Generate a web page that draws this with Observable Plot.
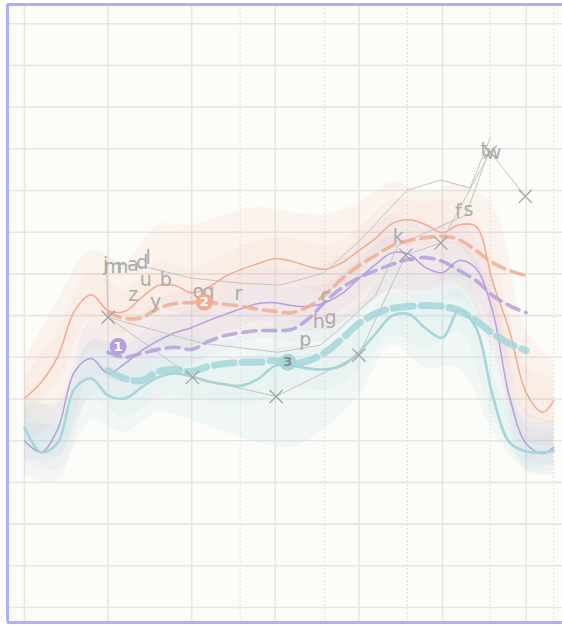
<!DOCTYPE html>
<html><head><meta charset="utf-8">
<script src="https://cdn.jsdelivr.net/npm/d3@7"></script>
<script src="https://cdn.jsdelivr.net/npm/@observablehq/plot@0.6"></script>
<style>body{margin:0;background:#fff;} #chart svg{display:block;}</style>
</head><body><div id="chart"></div>
<script>
// ---- data ----
const xs = [0,2,4,6,8,10,12,14,16,18,20,22,24,26,28,30,32,34,36,38,40,42,44,46,48,50,52,54,56,58,60,62,63.3];
const orangeLine = [50.1,54.0,60.2,71.2,75.0,71.2,71.0,74.3,77.2,77.2,75.5,76.7,79.4,81.1,82.5,83.7,83.0,81.8,81.1,82.7,85.6,88.5,92.1,93.0,91.8,89.9,91.8,91.4,78.0,66.4,51.6,46.8,49.6];
const purpleLine = [40.0,37.2,42.9,56.6,59.7,56.1,58.5,61.6,64.0,65.9,67.1,68.8,70.3,71.7,72.9,73.1,72.4,72.2,73.1,75.3,78.9,82.3,85.1,84.7,81.5,80.3,83.2,81.3,71.0,50.6,39.3,36.9,38.4];
const tealLine = [43.2,37.2,39.6,52.5,54.9,50.8,50.1,52.8,55.2,56.1,55.4,54.2,53.5,53.2,54.9,58.0,58.0,57.3,57.1,58.0,61.2,65.7,70.0,70.3,66.9,64.7,71.2,67.1,50.8,39.6,37.4,37.2,37.6];

const bandX = [0,4,8,12,16,20,24,28,32,36,40,44,48,52,56,60,63.3];
const orangeOuterHi = [58.8,73.7,85.7,82.8,91.7,91.7,94.1,96.0,94.8,94.1,97.0,102.0,99.6,101.3,96.5,66.5,59.3];
const orangeOuterLo = [40.1,44.9,61.7,59.3,62.9,61.7,65.3,66.5,66.5,66.5,71.3,76.1,76.1,77.3,61.7,40.1,38.9];
const orangeInnerHi = [55.0,66.5,80.4,76.1,82.8,81.4,84.7,88.1,88.6,86.6,91.0,97.7,97.2,97.2,84.5,58.1,55.0];
const orangeInnerLo = [44.9,54.0,69.4,65.8,71.8,70.1,74.2,77.0,77.5,75.6,80.4,86.9,86.6,86.6,71.3,46.1,44.4];
const purpleOuterHi = [48.5,49.7,68.9,67.7,73.7,76.1,79.0,81.4,81.4,82.1,88.1,94.1,91.0,92.4,79.7,47.3,44.9];
const purpleOuterLo = [31.7,30.5,50.9,49.7,55.7,58.1,61.7,64.6,63.6,64.1,69.8,76.1,72.5,74.2,61.7,32.9,31.7];
const purpleInnerHi = [44.4,44.4,64.1,62.9,68.9,71.3,74.4,77.0,76.8,77.5,83.3,89.3,85.7,87.6,75.4,43.7,42.5];
const purpleInnerLo = [35.8,35.8,55.4,54.2,60.2,62.6,66.0,68.6,68.2,68.9,74.6,80.9,77.3,79.0,66.5,35.8,34.3];
const tealOuterHi = [50.9,48.5,64.1,60.5,65.3,65.3,64.1,66.5,68.9,68.4,72.5,81.4,77.3,82.1,61.7,44.9,44.9];
const tealOuterLo = [34.8,32.9,44.9,42.0,46.8,44.9,42.0,39.6,38.4,43.0,50.9,62.9,57.4,57.4,42.5,32.9,32.9];
const tealInnerHi = [47.3,43.7,59.3,55.0,60.0,60.0,58.8,60.5,62.9,62.4,66.5,75.6,71.8,76.1,55.7,41.3,41.3];
const tealInnerLo = [38.9,36.5,50.2,45.4,50.4,50.4,48.5,49.2,52.6,52.1,56.4,65.3,61.7,66.0,46.1,34.1,34.1];

const trendX = [10,12,14,16,18,20,22,24,26,28,30,32,34,36,38,40,42,44,46,48,50,52,54,56,58,60];
const orangeTrend = [70.7,69.3,69.5,71.7,72.9,73.1,73.1,72.7,72.2,71.5,71.0,70.7,72.2,75.1,78.9,82.0,84.4,86.8,88.0,88.7,89.0,88.2,85.6,82.7,80.8,79.6];
const purpleTrend = [61.2,60.0,60.9,61.9,62.4,61.9,63.8,65.2,65.9,66.4,66.4,66.7,69.3,73.4,76.7,79.1,80.8,82.3,83.5,83.9,83.0,80.8,78.4,74.8,72.4,70.7];
const tealTrend = [56.8,54.9,54.4,56.6,57.1,56.6,57.8,58.5,58.8,58.8,59.2,58.5,59.2,61.2,64.5,68.1,70.5,71.7,72.2,72.4,72.2,71.2,68.8,65.7,63.3,61.6];

const seriesLabels = ["1","2","3"];
const labelX = [11.2, 21.5, 31.5];
const labelY = [62.6, 73.2, 58.8];

const markerX = [10.0,20.1,30.1,40.0,45.6,49.8,55.7,59.9];
const markerY = [69.6,55.2,50.6,60.5,84.5,87.4,109.2,98.6];

const grayPaths = [
  {id:"g2", x:[10.0,9.8,14.7,19.9,25.8,30.6,35.8,39.8,45.8,49.8,53.3,55.7], y:[69.6,82.6,81.6,79.0,77.8,77.3,80.2,87.4,100.1,102.5,100.6,112.6]},
  {id:"g3", x:[10.0,21.1,30.3,35.4,37.8,42.0,44.7], y:[69.6,63.4,61.2,62.9,67.0,74.9,86.9]},
  {id:"g4", x:[44.7,52.8,55.7], y:[86.9,94.1,110.2]}
];

const letters = ["j","m","n","a","d","l","u","b","z","y","o","q","r","c","h","g","p","k","f","s","t","w"];
const letterX = [9.7,10.6,11.7,13.0,14.1,14.8,14.5,16.9,13.0,15.7,20.8,22.0,25.6,36.0,35.2,36.6,33.6,44.7,51.9,53.1,55.0,56.1];
const letterY = [82.1,81.6,81.6,82.1,82.6,83.8,78.5,78.5,74.9,73.2,75.6,75.6,75.1,74.6,68.4,69.4,64.1,88.8,94.8,95.3,109.7,109.0];

const xGrid = [0,10,20,30,40,50,60];
const xGridMinor = [25.8,35.9,45.8,55.7,63.3];
const yGrid = [0,10,20,30,40,50,60,70,80,90,100,110,120,130,140];

const xDomain = [-2.03, 64.35];
const yDomain = [-3.6, 144.6];

// ---- tables ----
const pts = (X, Y) => X.map((x, i) => ({x, y: Y[i]}));
const band = (X, lo, hi) => X.map((x, i) => ({x, lo: lo[i], hi: hi[i]}));

const C = {orange:"#f2ab90", purple:"#b4a0da", teal:"#a4d6da"};

const grayRows = grayPaths.flatMap(g => g.x.map((x, i) => ({id: g.id, x, y: g.y[i]})));
const markerRows = pts(markerX, markerY);
const letterRows = letters.map((t, i) => ({t, x: letterX[i], y: letterY[i]}));
const labelRows = seriesLabels.map((t, i) => ({t, x: labelX[i], y: labelY[i]}));
const labelFill = [C.purple, C.orange, C.teal];
const labelText = ["#ffffff", "#ffffff", "#888888"];

const plot = Plot.plot({
  width: 562, height: 625,
  marginLeft: 7, marginRight: 0, marginTop: 4, marginBottom: 3,
  x: {domain: xDomain, axis: null},
  y: {domain: yDomain, axis: null},
  marks: [
    Plot.frame({fill: "#fcfcf8", stroke: "none"}),
    Plot.ruleY(yGrid, {stroke: "#e6e6e6", strokeWidth: 1.6}),
    Plot.ruleX(xGrid, {stroke: "#e6e6e6", strokeWidth: 1.6}),
    Plot.ruleX(xGridMinor, {stroke: "#e0e0e0", strokeWidth: 1, strokeDasharray: "2,2"}),

    Plot.areaY(band(bandX, orangeOuterLo, orangeOuterHi), {x:"x", y1:"lo", y2:"hi", fill: C.orange, fillOpacity: 0.1, curve: "catmull-rom"}),
    Plot.areaY(band(bandX, orangeInnerLo, orangeInnerHi), {x:"x", y1:"lo", y2:"hi", fill: C.orange, fillOpacity: 0.08, curve: "catmull-rom"}),
    Plot.areaY(band(bandX, purpleOuterLo, purpleOuterHi), {x:"x", y1:"lo", y2:"hi", fill: C.purple, fillOpacity: 0.08, curve: "catmull-rom"}),
    Plot.areaY(band(bandX, purpleInnerLo, purpleInnerHi), {x:"x", y1:"lo", y2:"hi", fill: C.purple, fillOpacity: 0.07, curve: "catmull-rom"}),
    Plot.areaY(band(bandX, tealOuterLo, tealOuterHi), {x:"x", y1:"lo", y2:"hi", fill: C.teal, fillOpacity: 0.12, curve: "catmull-rom"}),
    Plot.areaY(band(bandX, tealInnerLo, tealInnerHi), {x:"x", y1:"lo", y2:"hi", fill: C.teal, fillOpacity: 0.1, curve: "catmull-rom"}),

    Plot.line(pts(xs, orangeLine), {x:"x", y:"y", stroke: C.orange, strokeWidth: 1.5, curve: "catmull-rom"}),
    Plot.line(pts(xs, purpleLine), {x:"x", y:"y", stroke: C.purple, strokeWidth: 1.5, curve: "catmull-rom"}),
    Plot.line(pts(xs, tealLine), {x:"x", y:"y", stroke: C.teal, strokeWidth: 2.6, curve: "catmull-rom"}),

    Plot.line(grayRows, {x:"x", y:"y", z:"id", stroke: "#c4c4c4", strokeWidth: 1}),
    Plot.line(markerRows, {x:"x", y:"y", stroke: "#c4c4c4", strokeWidth: 1}),

    Plot.line(pts(trendX, orangeTrend), {x:"x", y:"y", stroke: C.orange, strokeWidth: 3.6, strokeDasharray: "13,7", curve: "catmull-rom", strokeOpacity: 0.85}),
    Plot.line(pts(trendX, purpleTrend), {x:"x", y:"y", stroke: C.purple, strokeWidth: 3.6, strokeDasharray: "13,7", curve: "catmull-rom", strokeOpacity: 0.85}),
    Plot.line(pts(trendX, tealTrend), {x:"x", y:"y", stroke: C.teal, strokeWidth: 7, strokeDasharray: "20,8", curve: "catmull-rom", strokeOpacity: 0.85}),

    Plot.dot(markerRows, {x:"x", y:"y", symbol: "times", r: 6, stroke: "#a0a0a0", strokeWidth: 1.2}),
    Plot.text(letterRows, {x:"x", y:"y", text:"t", fill: "#ababab", fontSize: 19, fontFamily: "DejaVu Sans"}),

    Plot.dot(labelRows, {x:"x", y:"y", r: 8.5, fill: (d, i) => labelFill[i], stroke: "none"}),
    Plot.text(labelRows, {x:"x", y:"y", text:"t", fill: (d, i) => labelText[i], fontSize: 13, fontWeight: "bold", fontFamily: "DejaVu Sans"}),

    Plot.ruleX([xDomain[0]], {stroke: "#b0b0fa", strokeWidth: 3}),
    Plot.ruleY([yDomain[1]], {stroke: "#b0b0fa", strokeWidth: 3}),
    Plot.ruleY([yDomain[0]], {stroke: "#b0b0fa", strokeWidth: 3})
  ]
});
document.getElementById("chart").appendChild(plot);
</script>
</body></html>
